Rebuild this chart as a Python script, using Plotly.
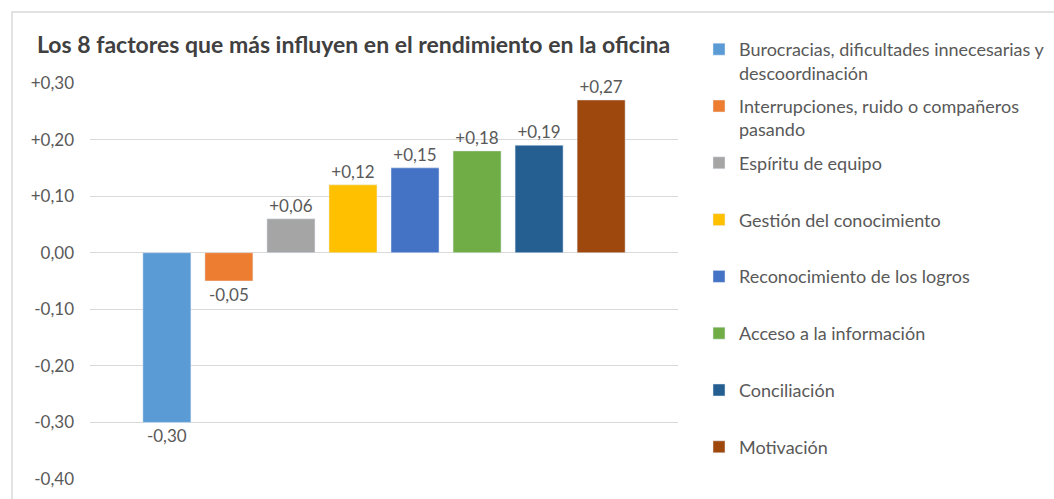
import plotly.graph_objects as go

title = "Los 8 factores que más influyen en el rendimiento en la oficina"
factors = [
    "Burocracias, dificultades innecesarias y<br>descoordinación",
    "Interrupciones, ruido o compañeros<br>pasando",
    "Espíritu de equipo",
    "Gestión del conocimiento",
    "Reconocimiento de los logros",
    "Acceso a la información",
    "Conciliación",
    "Motivación",
]
values = [-0.30, -0.05, 0.06, 0.12, 0.15, 0.18, 0.19, 0.27]
colors = ["#5B9BD5", "#ED7D31", "#A5A5A5", "#FFC000", "#4472C4", "#70AD47", "#255E91", "#9E480E"]
tick_vals = [0.30, 0.20, 0.10, 0.00, -0.10, -0.20, -0.30, -0.40]
tick_text = ["+0,30", "+0,20", "+0,10", "0,00", "-0,10", "-0,20", "-0,30", "-0,40"]


def fmt(v):
    s = f"{abs(v):.2f}".replace(".", ",")
    return ("+" if v > 0 else "-" if v < 0 else "") + s


FONT = "Lato"
GRAY = "#595959"

fig = go.Figure()
for i, (name, v, c) in enumerate(zip(factors, values, colors)):
    label = name if "<br>" in name else name + "<br>\u00a0"
    fig.add_trace(go.Bar(
        x=["Factores"], y=[v], name=label, marker_color=c,
        text=[fmt(v)], textposition="outside", cliponaxis=False,
        textfont=dict(family=FONT, size=17, color=GRAY),
        legendgroup=f"g{i}",
    ))

fig.update_layout(
    width=1054, height=499,
    margin=dict(l=90, r=376, t=83, b=20, autoexpand=False),
    paper_bgcolor="white", plot_bgcolor="white",
    barmode="group", bargap=0.156, bargroupgap=0.226,
    title=dict(text=title, x=37 / 1054, xanchor="left", y=1 - 45 / 499, yanchor="middle",
               font=dict(family=FONT, size=23, color="#404040", weight="bold")),
    xaxis=dict(showticklabels=False, showgrid=False, zeroline=False, showline=False),
    yaxis=dict(range=[-0.40, 0.30], tickvals=tick_vals, ticktext=tick_text,
               showgrid=True, gridcolor="#D9D9D9", gridwidth=1, zeroline=False,
               tickfont=dict(family=FONT, size=17, color=GRAY), ticks="", ticklen=0,
               ticklabelstandoff=15),
    showlegend=True,
    legend=dict(x=(699 - 90) / 588, xanchor="left", y=1 + 52 / 396, yanchor="top",
                traceorder="grouped", tracegroupgap=7, valign="top",
                itemwidth=30, maxheight=499,
                font=dict(family=FONT, size=18, color=GRAY)),
    shapes=[dict(type="rect", xref="paper", yref="paper",
                 x0=-78 / 588, x1=(1060 - 90) / 588, y0=-22 / 396, y1=1 + 71 / 396,
                 line=dict(color="#D9D9D9", width=1.5), fillcolor="rgba(0,0,0,0)", layer="below")],
)

fig.write_html("out.html")
